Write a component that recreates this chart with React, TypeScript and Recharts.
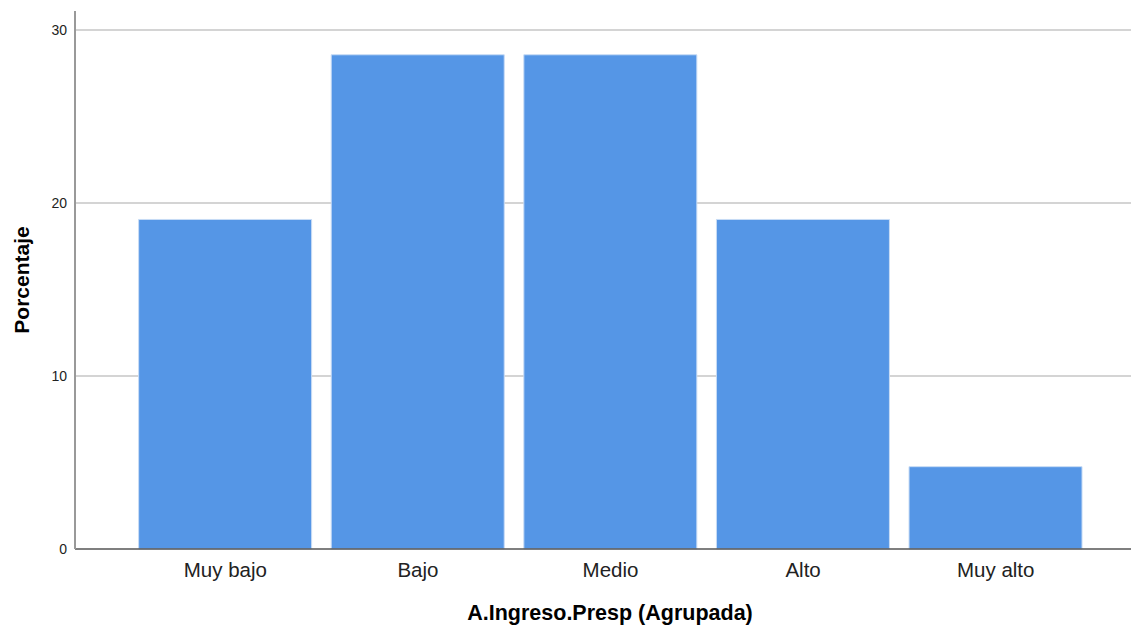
import React from "react";
import { BarChart, Bar, XAxis, YAxis, CartesianGrid } from "recharts";

const categories = ["Muy bajo", "Bajo", "Medio", "Alto", "Muy alto"];
const percentages = [19.05, 28.57, 28.57, 19.05, 4.76];
const yTicks = [0, 10, 20, 30];

const data = categories.map((c, i) => ({ name: c, value: percentages[i] }));

const FONT = "'Liberation Sans', Arial, sans-serif";

export default function App() {
  return (
    <div style={{ position: "absolute", left: 0, top: 0, width: 1131, height: 626, background: "#fff" }}>
      <BarChart
        width={1131}
        height={626}
        data={data}
        margin={{ top: 11, right: 0, left: 0, bottom: 0 }}
        barCategoryGap="5%"
      >
        <CartesianGrid
          vertical={false}
          stroke="#D4D4D4"
          strokeWidth={2}
          horizontalValues={yTicks.filter((t) => t > 0)}
        />
        <XAxis
          dataKey="name"
          height={77}
          padding={{ left: 54, right: 39 }}
          tickLine={false}
          tickSize={0}
          tickMargin={13}
          axisLine={{ stroke: "#555", strokeWidth: 1.5 }}
          tick={{ fill: "#222", fontSize: 20.5, fontFamily: FONT }}
          label={{
            value: "A.Ingreso.Presp (Agrupada)",
            position: "insideBottom",
            offset: 6,
            dx: 7,
            style: { fill: "#000", fontSize: 21.5, fontWeight: "bold", fontFamily: FONT },
          }}
        />
        <YAxis
          width={75}
          domain={[0, 31.1]}
          ticks={yTicks}
          tickLine={false}
          tickSize={0}
          tickMargin={8}
          axisLine={{ stroke: "#999", strokeWidth: 2 }}
          tick={{ fill: "#222", fontSize: 14, fontFamily: FONT }}
          label={{
            value: "Porcentaje",
            angle: -90,
            position: "insideLeft",
            offset: 22,
            style: { fill: "#000", fontSize: 21, fontWeight: "bold", fontFamily: FONT, textAnchor: "middle" },
          }}
        />
        <Bar dataKey="value" fill="#5596E6" stroke="#C8DCF5" strokeWidth={1} isAnimationActive={false} />
      </BarChart>
    </div>
  );
}
